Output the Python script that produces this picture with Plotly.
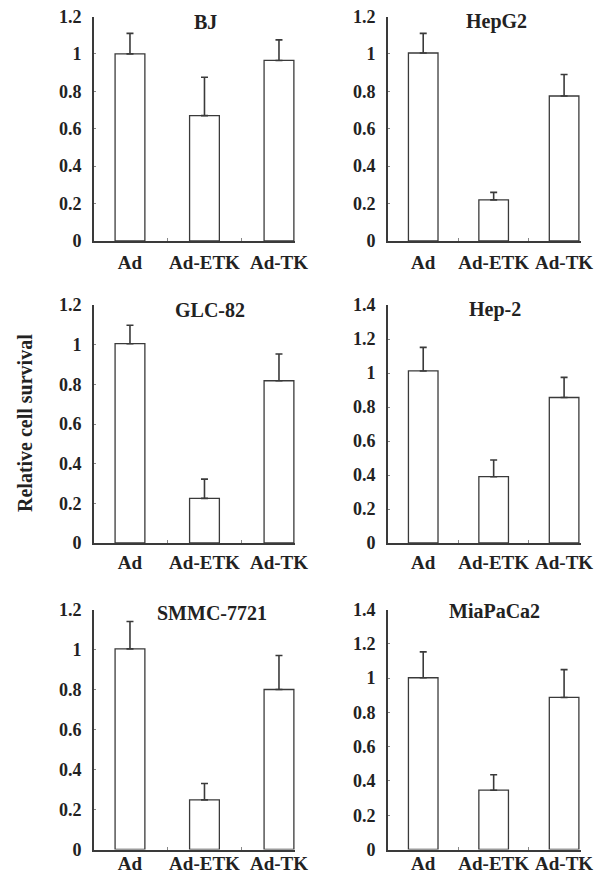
import plotly.graph_objects as go

categories = ["Ad", "Ad-ETK", "Ad-TK"]
panel_names = ["BJ", "HepG2", "GLC-82", "Hep-2", "SMMC-7721", "MiaPaCa2"]
bj_vals = [1.00, 0.67, 0.965]
bj_err = [0.11, 0.205, 0.11]
hepg2_vals = [1.005, 0.22, 0.775]
hepg2_err = [0.105, 0.04, 0.115]
glc82_vals = [1.005, 0.225, 0.818]
glc82_err = [0.093, 0.097, 0.135]
hep2_vals = [1.012, 0.39, 0.856]
hep2_err = [0.139, 0.098, 0.118]
smmc_vals = [1.003, 0.248, 0.80]
smmc_err = [0.137, 0.082, 0.17]
mia_vals = [1.002, 0.346, 0.887]
mia_err = [0.151, 0.09, 0.162]
y_max = [1.2, 1.2, 1.2, 1.4, 1.2, 1.4]
y_tick_vals = [[0, 0.2, 0.4, 0.6, 0.8, 1, 1.2], [0, 0.2, 0.4, 0.6, 0.8, 1, 1.2, 1.4]]
y_label = "Relative cell survival"

values = [bj_vals, hepg2_vals, glc82_vals, hep2_vals, smmc_vals, mia_vals]
errors = [bj_err, hepg2_err, glc82_err, hep2_err, smmc_err, mia_err]

W, H = 604, 878
FONT = "Liberation Serif"
INK = "#3a3a3a"
TXT = "#222"

# pixel layout of each panel
left_x = (94, 295)
right_x = (388, 581)
rows_y = [(16.5, 241), (305, 543), (609.5, 849.5)]
row_standoff = [3, 1, -4]
x_ranges = [(-0.483, 2.215), (-0.5, 2.24)]
bar_widths = [0.40, 0.42]
title_pos = [(205, 22), (496, 22), (210, 310), (495, 309), (212, 613), (494, 611)]

fig = go.Figure()
for i in range(6):
    col = i % 2
    row = i // 2
    xp = left_x if col == 0 else right_x
    yp = rows_y[row]
    ax = "" if i == 0 else str(i + 1)
    fig.add_trace(go.Bar(
        x=categories, y=values[i],
        width=bar_widths[col],
        marker=dict(color="white", line=dict(color=INK, width=1.3)),
        error_y=dict(type="data", array=errors[i], arrayminus=[0, 0, 0],
                     symmetric=False, color=INK, thickness=1.6, width=3.5),
        xaxis="x" + ax, yaxis="y" + ax, showlegend=False,
    ))
    xd = [xp[0] / W, xp[1] / W]
    yd = [1 - yp[1] / H, 1 - yp[0] / H]
    tv = y_tick_vals[0] if y_max[i] == 1.2 else y_tick_vals[1]
    fig.layout["xaxis" + ax] = dict(
        domain=xd, anchor="y" + ax, range=list(x_ranges[col]),
        type="category", tickson="boundaries", ticks="inside", ticklen=3,
        tickcolor="#888", showline=True, linecolor=INK, linewidth=1.6,
        showgrid=False, zeroline=False, ticklabelstandoff=row_standoff[row],
        tickangle=0, automargin=False,
        tickfont=dict(family=FONT, size=19, color=TXT, weight="bold"),
        fixedrange=True,
    )
    fig.layout["yaxis" + ax] = dict(
        domain=yd, anchor="x" + ax, range=[0, y_max[i]],
        tickvals=tv, ticktext=[("%g" % v) for v in tv],
        ticks="inside", ticklen=2, tickcolor="#888",
        showline=True, linecolor=INK, linewidth=1.6, automargin=False,
        showgrid=False, zeroline=False, ticklabelstandoff=7,
        tickfont=dict(family=FONT, size=18, color=TXT, weight="bold"),
        fixedrange=True,
    )
    tx, ty = title_pos[i]
    fig.add_annotation(
        text="<b>" + panel_names[i] + "</b>",
        x=tx / W, y=1 - ty / H,
        xref="paper", yref="paper", xanchor="center", yanchor="middle",
        showarrow=False, font=dict(family=FONT, size=20, color=TXT),
    )

fig.add_annotation(
    text="<b>" + y_label + "</b>", textangle=-90,
    x=25 / W, y=1 - 423 / H, xref="paper", yref="paper",
    xanchor="center", yanchor="middle", showarrow=False,
    font=dict(family=FONT, size=20, color=TXT),
)

fig.update_layout(
    width=W, height=H, margin=dict(l=0, r=0, t=0, b=0, autoexpand=False),
    paper_bgcolor="white", plot_bgcolor="white",
    font=dict(family=FONT, size=16, color=TXT),
)

fig.write_html("out.html", config={"displayModeBar": False},
               post_script="document.body.style.margin='0px';document.body.style.overflow='hidden';")
